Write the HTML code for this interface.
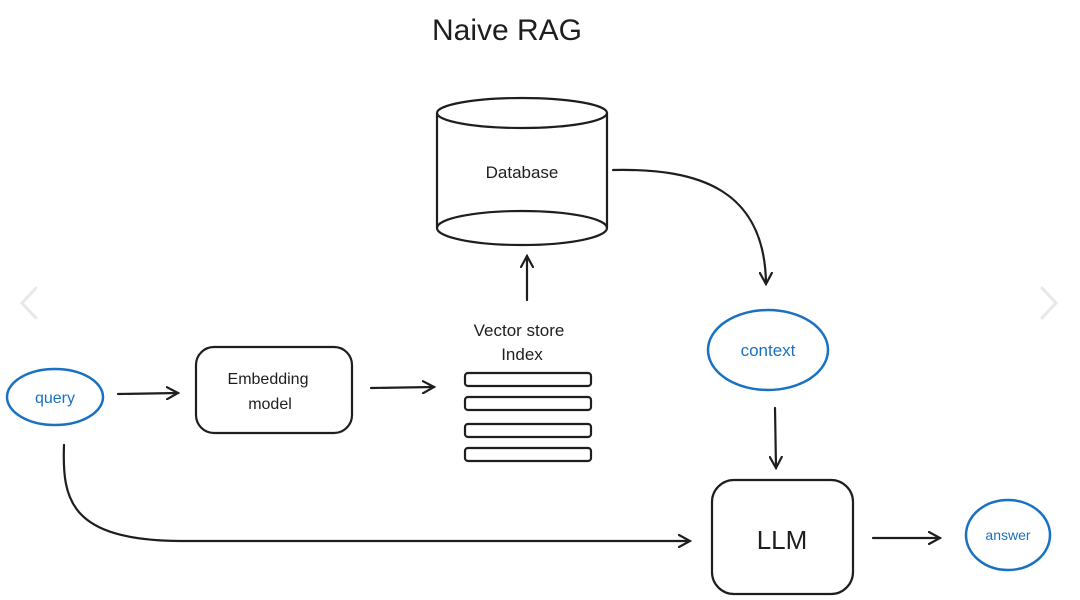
<!DOCTYPE html>
<html><head><meta charset="utf-8"><style>
html,body{margin:0;padding:0;background:#fff;}
svg{display:block;}
text{font-family:"Liberation Sans",sans-serif;}
</style></head><body>
<svg width="1080" height="600" viewBox="0 0 1080 600" xmlns="http://www.w3.org/2000/svg">
<defs>
<marker id="ah" markerWidth="14" markerHeight="14" refX="12" refY="7" orient="auto" markerUnits="userSpaceOnUse">
<path d="M1,1 L12,7 L1,13" fill="none" stroke="#1e1e1e" stroke-width="2.2" stroke-linecap="round"/>
</marker>
</defs>
<g fill="none" stroke="#1e1e1e" stroke-width="2.2" stroke-linecap="round">
<path d="M36,288 L22,303 L36,318" stroke="#e8e8e8" stroke-width="3"/>
<path d="M1042,288 L1056,303 L1042,318" stroke="#e8e8e8" stroke-width="3"/>
<ellipse cx="522" cy="113" rx="85" ry="15"/>
<ellipse cx="522" cy="228" rx="85" ry="17"/>
<line x1="437" y1="113" x2="437" y2="228"/>
<line x1="607" y1="113" x2="607" y2="228"/>
<path d="M527,300 L527,256" marker-end="url(#ah)"/>
<path d="M613,170 C700,168 765,190 766,284" marker-end="url(#ah)"/>
<path d="M118,394 L178,393" marker-end="url(#ah)"/>
<path d="M371,388 L434,387" marker-end="url(#ah)"/>
<path d="M775,408 L776,468" marker-end="url(#ah)"/>
<path d="M873,538 L940,538" marker-end="url(#ah)"/>
<path d="M64,445 C62,500 70,540 180,541 L690,541" marker-end="url(#ah)"/>
<rect x="196" y="347" width="156" height="86" rx="18"/>
<rect x="712" y="480" width="141" height="114" rx="22"/>
<rect x="465" y="373" width="126" height="13" rx="3"/>
<rect x="465" y="397" width="126" height="13" rx="3"/>
<rect x="465" y="424" width="126" height="13" rx="3"/>
<rect x="465" y="448" width="126" height="13" rx="3"/>
</g>
<g fill="none" stroke="#1971c2" stroke-width="2.5">
<ellipse cx="55" cy="397" rx="48" ry="28"/>
<ellipse cx="768" cy="350" rx="60" ry="40"/>
<ellipse cx="1008" cy="535" rx="42" ry="35"/>
</g>
<g fill="#1e1e1e" text-anchor="middle">
<text x="507" y="40" font-size="30">Naive RAG</text>
<text x="522" y="178" font-size="17">Database</text>
<text x="519" y="336" font-size="17">Vector store</text>
<text x="522" y="360" font-size="17">Index</text>
<text x="268" y="384" font-size="16">Embedding</text>
<text x="270" y="409" font-size="16">model</text>
<text x="782" y="549" font-size="26">LLM</text>
</g>
<g fill="#1971c2" text-anchor="middle">
<text x="55" y="403" font-size="16">query</text>
<text x="768" y="356" font-size="17">context</text>
<text x="1008" y="540" font-size="14">answer</text>
</g>
</svg>
</body></html>
